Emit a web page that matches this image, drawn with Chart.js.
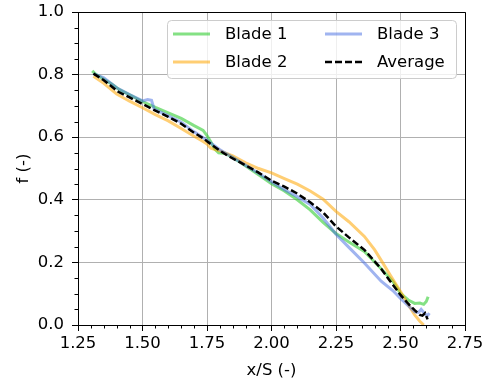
<!DOCTYPE html>
<html>
<head>
<meta charset="utf-8">
<script src="https://cdn.jsdelivr.net/npm/chart.js@4.4.1/dist/chart.umd.min.js"></script>
<style>
  html, body { margin: 0; padding: 0; background: #fff; }
  canvas { display: block; }
</style>
</head>
<body>
<canvas id="bladeChart" width="483" height="383"></canvas>
<script>
// Values
const seriesNames = ['Blade 1', 'Blade 2', 'Blade 3', 'Average'];

const blade1X = [1.305, 1.32, 1.35, 1.38, 1.41, 1.45, 1.5, 1.55, 1.6, 1.65, 1.7, 1.735, 1.75, 1.765, 1.78, 1.795, 1.82, 1.85, 1.9, 1.95, 2.0, 2.05, 2.1, 2.15, 2.2, 2.25, 2.3, 2.36, 2.425, 2.47, 2.5, 2.53, 2.555, 2.575, 2.59, 2.6, 2.607];
const blade1F = [0.812, 0.80, 0.785, 0.77, 0.752, 0.735, 0.714, 0.695, 0.678, 0.66, 0.637, 0.622, 0.605, 0.585, 0.562, 0.55, 0.548, 0.535, 0.508, 0.48, 0.451, 0.428, 0.40, 0.368, 0.328, 0.292, 0.265, 0.235, 0.18, 0.14, 0.101, 0.08, 0.069, 0.07, 0.066, 0.075, 0.09];

const blade2X = [1.31, 1.35, 1.40, 1.45, 1.5, 1.55, 1.6, 1.65, 1.7, 1.735, 1.75, 1.765, 1.8, 1.85, 1.9, 1.95, 2.0, 2.05, 2.1, 2.15, 2.2, 2.25, 2.3, 2.36, 2.4, 2.43, 2.46, 2.5, 2.53, 2.555, 2.575, 2.59];
const blade2F = [0.795, 0.772, 0.738, 0.715, 0.694, 0.672, 0.652, 0.628, 0.603, 0.586, 0.578, 0.565, 0.556, 0.54, 0.518, 0.50, 0.486, 0.468, 0.45, 0.428, 0.402, 0.363, 0.33, 0.283, 0.24, 0.2, 0.16, 0.107, 0.065, 0.032, 0.012, 0.0];

const blade3X = [1.31, 1.35, 1.40, 1.45, 1.5, 1.52, 1.535, 1.545, 1.6, 1.65, 1.7, 1.75, 1.8, 1.85, 1.9, 1.95, 2.0, 2.05, 2.1, 2.15, 2.2, 2.25, 2.3, 2.36, 2.425, 2.47, 2.5, 2.53, 2.555, 2.57, 2.58, 2.595, 2.605, 2.612];
const blade3F = [0.803, 0.79, 0.758, 0.736, 0.716, 0.72, 0.718, 0.69, 0.668, 0.648, 0.617, 0.59, 0.56, 0.535, 0.51, 0.485, 0.458, 0.432, 0.41, 0.385, 0.342, 0.29, 0.248, 0.198, 0.14, 0.11, 0.085, 0.062, 0.042, 0.04, 0.05, 0.035, 0.03, 0.038];

const avgX = [1.31, 1.35, 1.406, 1.45, 1.5, 1.55, 1.6, 1.65, 1.7, 1.735, 1.75, 1.8, 1.832, 1.9, 1.95, 2.0, 2.05, 2.1, 2.15, 2.2, 2.25, 2.3, 2.36, 2.425, 2.46, 2.5, 2.53, 2.554, 2.575, 2.585, 2.595, 2.6, 2.605];
const avgF = [0.803, 0.782, 0.745, 0.727, 0.706, 0.685, 0.665, 0.643, 0.614, 0.597, 0.587, 0.557, 0.54, 0.51, 0.487, 0.461, 0.442, 0.42, 0.392, 0.36, 0.315, 0.28, 0.24, 0.18, 0.14, 0.096, 0.068, 0.048, 0.032, 0.03, 0.038, 0.028, 0.018];

const xMin = 1.25, xMax = 2.75, xStep = 0.25, xMinor = 0.05;
const yMin = 0, yMax = 1.0, yStep = 0.2, yMinor = 0.05;

const FONT = '"DejaVu Sans", sans-serif';
const FONT_SIZE = 16.5;

function toPoints(xs, ys) {
  return xs.map((x, i) => ({ x: x, y: ys[i] }));
}

const colors = [
  'rgba(50, 205, 50, 0.6)',
  'rgba(255, 165, 0, 0.55)',
  'rgba(65, 105, 225, 0.5)',
  '#000000'
];

// top/right spines + minor ticks
const framePlugin = {
  id: 'frame',
  afterDraw(chart) {
    const ctx = chart.ctx;
    const a = chart.chartArea;
    const xs = chart.scales.x, ys = chart.scales.y;
    ctx.save();
    ctx.strokeStyle = '#000';
    ctx.lineWidth = 1;
    ctx.beginPath();
    ctx.moveTo(a.left, a.top + 0.5);
    ctx.lineTo(a.right + 0.5, a.top + 0.5);
    ctx.lineTo(a.right + 0.5, a.bottom);
    ctx.stroke();

    ctx.beginPath();
    for (let i = 1; i * xMinor < xMax - xMin - 1e-9; i++) {
      if (i % 5 === 0) continue;
      const px = Math.round(xs.getPixelForValue(xMin + i * xMinor)) + 0.5;
      ctx.moveTo(px, a.bottom);
      ctx.lineTo(px, a.bottom + 3.5);
    }
    for (let i = 1; i * yMinor < yMax - yMin - 1e-9; i++) {
      if (i % 4 === 0) continue;
      const py = Math.round(ys.getPixelForValue(yMin + i * yMinor)) + 0.5;
      ctx.moveTo(a.left, py);
      ctx.lineTo(a.left - 3.5, py);
    }
    ctx.stroke();
    ctx.restore();
  }
};

// legend drawn inside the plot, 2 columns, upper right
const insideLegend = {
  id: 'insideLegend',
  afterDraw(chart) {
    const ctx = chart.ctx;
    const a = chart.chartArea;
    const boxW = 289, boxH = 58;
    const bx = a.right - 9 - boxW, by = a.top + 8;
    ctx.save();
    ctx.fillStyle = 'rgba(255,255,255,0.8)';
    ctx.strokeStyle = '#cccccc';
    ctx.lineWidth = 1;
    ctx.beginPath();
    ctx.roundRect(bx + 0.5, by + 0.5, boxW, boxH, 4);
    ctx.fill();
    ctx.stroke();

    const slots = [
      { i: 0, col: 0, row: 0 },
      { i: 1, col: 0, row: 1 },
      { i: 2, col: 1, row: 0 },
      { i: 3, col: 1, row: 1 }
    ];
    ctx.font = FONT_SIZE + 'px ' + FONT;
    ctx.textBaseline = 'middle';
    ctx.fillStyle = '#000';
    slots.forEach(s => {
      const ds = chart.data.datasets[s.i];
      const lx = bx + 6 + s.col * 152;
      const ly = by + 14 + s.row * 28;
      ctx.save();
      ctx.strokeStyle = ds.borderColor;
      ctx.lineWidth = ds.borderWidth;
      ctx.setLineDash(ds.borderDash || []);
      ctx.beginPath();
      ctx.moveTo(lx, ly);
      ctx.lineTo(lx + 37, ly);
      ctx.stroke();
      ctx.restore();
      ctx.fillText(ds.label, lx + 52, ly + 1);
    });
    ctx.restore();
  }
};

document.addEventListener('DOMContentLoaded', function () {
  const ctx = document.getElementById('bladeChart').getContext('2d');
  const pointSets = [
    toPoints(blade1X, blade1F),
    toPoints(blade2X, blade2F),
    toPoints(blade3X, blade3F),
    toPoints(avgX, avgF)
  ];

  new Chart(ctx, {
    type: 'line',
    data: {
      datasets: seriesNames.map((name, i) => ({
        label: name,
        data: pointSets[i],
        borderColor: colors[i],
        borderWidth: i === 3 ? 2.5 : 3,
        borderDash: i === 3 ? [7, 3] : undefined,
        pointRadius: 0,
        tension: 0,
        fill: false,
        order: i === 3 ? 0 : 4 - i
      }))
    },
    options: {
      responsive: false,
      devicePixelRatio: 1,
      animation: false,
      layout: { padding: { left: 0, right: 18, top: 12, bottom: 0 } },
      plugins: {
        legend: { display: false },
        tooltip: { enabled: false }
      },
      scales: {
        x: {
          type: 'linear',
          min: xMin,
          max: xMax,
          afterFit(scale) {
            scale.height = 58;
            scale.paddingLeft = 0;
            scale.paddingRight = 0;
          },
          ticks: {
            stepSize: xStep,
            color: '#000',
            padding: 3,
            maxRotation: 0,
            font: { family: FONT, size: FONT_SIZE },
            callback: v => Number(v).toFixed(2)
          },
          grid: { color: '#b0b0b0', lineWidth: 1, tickLength: 6, tickColor: '#000' },
          border: { color: '#000', width: 1 },
          title: {
            display: true,
            text: 'x/S (-)',
            color: '#000',
            font: { family: FONT, size: FONT_SIZE },
            padding: { top: 2, bottom: 2 }
          }
        },
        y: {
          type: 'linear',
          min: yMin,
          max: yMax,
          afterFit(scale) {
            scale.width = 78;
            scale.paddingTop = 0;
            scale.paddingBottom = 0;
          },
          ticks: {
            stepSize: yStep,
            color: '#000',
            padding: 8,
            font: { family: FONT, size: FONT_SIZE },
            callback: v => Number(v).toFixed(1)
          },
          grid: { color: '#b0b0b0', lineWidth: 1, tickLength: 6, tickColor: '#000' },
          border: { color: '#000', width: 1 },
          title: {
            display: true,
            text: 'f (-)',
            color: '#000',
            font: { family: FONT, size: FONT_SIZE },
            padding: { top: 14, bottom: 14 }
          }
        }
      }
    },
    plugins: [framePlugin, insideLegend]
  });
});
</script>
</body>
</html>
